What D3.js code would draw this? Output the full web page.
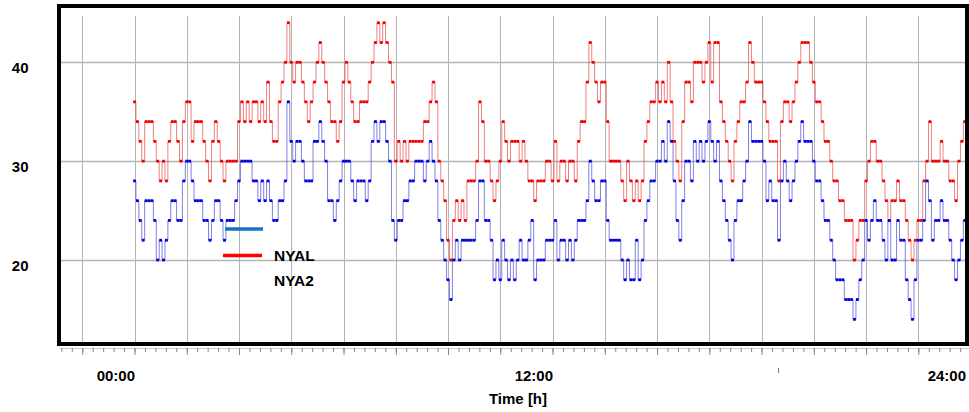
<!DOCTYPE html>
<html><head><meta charset="utf-8">
<script src="https://cdn.jsdelivr.net/npm/d3@7"></script>
<style>
body{margin:0;background:#fff}
svg{display:block}
text{font-family:"Liberation Sans",Arial,sans-serif;font-weight:bold;fill:#000}
</style>
</head><body>
<svg id="c" width="969" height="412"></svg>
<script>
// ---- data ----
const seriesNames = ["NYAL", "NYA2"];
const sampleMinutes = 5;
const nyal = [36,34,32,30,34,34,34,32,30,28,
30,28,32,34,34,32,30,34,36,36,
32,34,34,34,32,30,28,32,34,32,
30,28,30,30,30,30,34,36,34,36,
34,36,36,34,36,34,38,34,32,32,
36,38,40,44,40,38,40,40,38,36,
34,36,38,40,42,40,38,36,34,34,
32,34,38,40,38,36,34,34,36,36,
36,38,40,42,44,42,44,42,40,38,
30,32,30,32,30,32,32,32,32,32,
34,34,36,38,36,30,28,26,22,20,
24,26,24,26,24,28,28,28,30,36,
34,30,30,28,26,28,30,34,32,30,
32,32,32,30,32,30,28,28,26,28,
28,28,30,30,28,32,28,30,30,28,
30,30,28,32,34,34,38,42,40,38,
36,38,38,34,30,30,30,30,28,26,
30,28,26,28,26,28,32,34,36,36,
38,36,38,36,40,36,32,30,28,34,
38,38,36,40,40,40,38,40,42,38,
42,42,36,34,32,30,28,32,34,36,
36,38,42,40,38,38,38,36,34,32,
32,32,28,34,36,36,34,36,38,40,
42,42,42,40,38,36,36,34,32,32,
30,28,28,26,26,24,24,24,20,22,
24,24,28,30,32,32,30,30,28,26,
24,26,26,28,26,26,24,22,20,22,
24,24,28,30,34,30,30,30,32,30,
30,28,28,26,30,32,34,34];
const nya2 = [28,26,24,22,26,26,26,24,20,22,
20,22,24,26,26,24,24,28,30,30,
28,26,26,26,24,24,22,24,26,26,
24,22,24,24,24,26,28,30,30,30,
30,28,28,26,28,26,28,26,24,24,
26,26,28,36,32,30,32,32,30,28,
28,28,32,32,34,32,30,26,26,24,
26,28,30,30,30,28,26,28,28,28,
26,28,32,34,32,34,34,32,30,24,
22,24,24,26,26,28,28,30,30,30,
28,30,32,30,28,24,22,20,18,16,
20,22,20,22,22,22,22,22,24,28,
28,24,24,22,18,20,18,22,20,18,
20,18,20,22,20,20,22,24,18,20,
20,20,22,22,22,24,20,22,22,20,
22,20,22,24,24,24,26,30,28,26,
26,28,28,24,22,22,22,22,20,18,
20,18,18,22,18,20,24,26,28,28,
30,30,32,30,34,32,28,24,22,26,
30,30,28,32,30,32,30,32,34,32,
30,32,28,26,24,22,20,24,26,26,
28,30,34,32,32,32,32,30,26,28,
26,26,22,28,30,28,26,28,30,32,
34,32,32,32,30,28,28,26,24,24,
22,20,18,18,18,16,16,16,14,16,
18,20,24,22,24,26,24,24,22,20,
24,20,20,24,22,22,18,16,14,18,
22,22,24,28,26,22,24,24,26,24,
24,22,20,18,20,22,24,24];
const yTickValues = [20, 30, 40];
const xLabelHours = [0, 12, 24];
const xLabelTexts = ["00:00", "12:00", "24:00"];
const xAxisTitle = "Time [h]";
const majorStepHours = 1.5;
const minorStepHours = 0.3;

// ---- layout ----
const svg = d3.select("#c");
const plot = {left: 59, top: 6, right: 967, bottom: 344};
const x = d3.scaleLinear().domain([0, 24]).range([134.5, 970.6]);
const y = d3.scaleLinear().domain([20, 40]).range([260, 62.3]);

const series = [
  {name: seriesNames[0], values: nyal, line: "#e83a3a", mark: "#ee0000"},
  {name: seriesNames[1], values: nya2, line: "#3a3ad8", mark: "#0000e0"}
];

svg.append("rect").attr("width", 969).attr("height", 412).attr("fill", "#fff");

const defs = svg.append("defs");
defs.append("clipPath").attr("id", "clip").append("rect")
  .attr("x", plot.left + 1).attr("y", plot.top + 2)
  .attr("width", plot.right - plot.left - 2).attr("height", plot.bottom - plot.top - 2);

const inner = svg.append("g").attr("clip-path", "url(#clip)");

// grid
const gridHours = d3.range(-1.5, 24.001, majorStepHours);
inner.append("g").selectAll("line").data(gridHours).join("line")
  .attr("x1", d => Math.round(x(d)) + 0.5).attr("x2", d => Math.round(x(d)) + 0.5)
  .attr("y1", 16).attr("y2", plot.bottom)
  .attr("stroke", "#b4b4b4").attr("stroke-width", 1);
inner.append("g").selectAll("line").data(yTickValues).join("line")
  .attr("x1", plot.left).attr("x2", plot.right)
  .attr("y1", d => Math.round(y(d)) + 0.5).attr("y2", d => Math.round(y(d)) + 0.5)
  .attr("stroke", "#b4b4b4").attr("stroke-width", 1.3);

// series
const tOf = i => i * sampleMinutes / 60;
const line = d3.line().curve(d3.curveStep).x((d, i) => x(tOf(i))).y(d => y(d));
series.forEach(s => {
  inner.append("path").datum(s.values)
    .attr("d", line).attr("fill", "none")
    .attr("stroke", s.line).attr("stroke-width", 1).attr("stroke-opacity", 0.65);
  inner.append("g").selectAll("rect").data(s.values).join("rect")
    .attr("x", (d, i) => x(tOf(i)) - 1.4).attr("y", d => y(d) - 1.4)
    .attr("width", 2.8).attr("height", 2.8).attr("fill", s.mark);
});

// legend
const lg = svg.append("g");
lg.append("line").attr("x1", 225).attr("x2", 263).attr("y1", 229).attr("y2", 229)
  .attr("stroke", "#1a72c2").attr("stroke-width", 3.5);
lg.append("line").attr("x1", 223).attr("x2", 262).attr("y1", 255.5).attr("y2", 255.5)
  .attr("stroke", "#ff0000").attr("stroke-width", 3.5);
lg.append("text").attr("x", 274).attr("y", 261).attr("font-size", 15.5).text(seriesNames[0]);
lg.append("text").attr("x", 274).attr("y", 286).attr("font-size", 15.5).text(seriesNames[1]);

// frame
svg.append("rect").attr("x", plot.left).attr("y", plot.top)
  .attr("width", plot.right - plot.left).attr("height", plot.bottom - plot.top)
  .attr("fill", "none").attr("stroke", "#000").attr("stroke-width", 4);

// x axis ticks
svg.append("line").attr("x1", 60).attr("x2", 969).attr("y1", 348.5).attr("y2", 348.5)
  .attr("stroke", "#c8c8c8").attr("stroke-width", 1);
const minorAxis = d3.axisBottom(x).tickValues(d3.range(-2.1, 24.01, minorStepHours)).tickSize(4).tickFormat("");
const majorAxis = d3.axisBottom(x).tickValues(gridHours).tickSize(7).tickFormat("");
const ga = svg.append("g").attr("transform", "translate(0,348)").call(minorAxis);
const gb = svg.append("g").attr("transform", "translate(0,348)").call(majorAxis);
[ga, gb].forEach(g => { g.select(".domain").remove(); g.selectAll("line").attr("stroke", "#888"); });
svg.append("line").attr("x1", 778.5).attr("x2", 778.5).attr("y1", 368).attr("y2", 373)
  .attr("stroke", "#777").attr("stroke-width", 1);

// x labels
svg.append("g").selectAll("text").data(xLabelHours).join("text")
  .attr("x", d => Math.min(x(d) + 0.5, 966)).attr("y", 381)
  .attr("text-anchor", "end").attr("font-size", 15)
  .text((d, i) => xLabelTexts[i]);
svg.append("text").attr("x", 518).attr("y", 404).attr("text-anchor", "middle")
  .attr("font-size", 15).text(xAxisTitle);

// y labels
svg.append("g").selectAll("text").data(yTickValues).join("text")
  .attr("x", 28.5).attr("y", d => y(d) + 10.5)
  .attr("text-anchor", "end").attr("font-size", 15)
  .text(d => d);
</script>
</body></html>
